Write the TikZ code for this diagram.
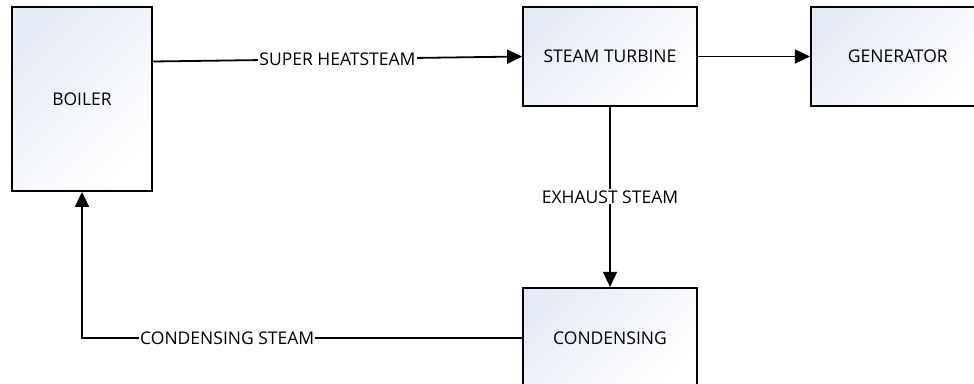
\documentclass[tikz,border=0pt]{standalone}
\usepackage{fontspec}
\setmainfont{Open Sans}
\usepackage{tikz}
\usetikzlibrary{arrows.meta,positioning}
\definecolor{boxtint}{HTML}{E6ECF7}

\begin{document}
\begin{tikzpicture}[
  x=1pt, y=-1pt,
  font=\fontsize{17.5}{20}\selectfont,
  box/.style={draw, line width=1.8pt, align=center, inner sep=0pt,
    shading=axis, top color=boxtint, bottom color=white, shading angle=45},
  wide/.style={box, minimum width=174pt, minimum height=99pt},
  arr/.style={-{Triangle[length=15pt, width=14pt]}, line width=1.8pt},
  lbl/.style={fill=white, inner sep=1pt}]
\clip (0,0) rectangle (974,383);
% plant blocks
\node[box, minimum width=140pt, minimum height=184pt] (boiler) at (82,99) {BOILER};
\node[wide] (turbine) at (610,56.5) {STEAM TURBINE};
\node[wide, right=112pt of turbine] (generator) {GENERATOR};
\node[wide, below=180pt of turbine, minimum height=100pt] (condensing) {CONDENSING};

% steam loop
\draw[arr] ([yshift=-5pt]boiler.east |- turbine.west) -- node[lbl]{SUPER HEATSTEAM} (turbine.west);
\draw[arr] (turbine) -- (generator);
\draw[arr] (turbine) -- node[lbl]{EXHAUST STEAM} (condensing);
\draw[arr] (condensing.west) -- node[lbl, pos=0.67]{CONDENSING STEAM} (boiler.south |- condensing.west) -- (boiler.south);
\end{tikzpicture}
\end{document}
